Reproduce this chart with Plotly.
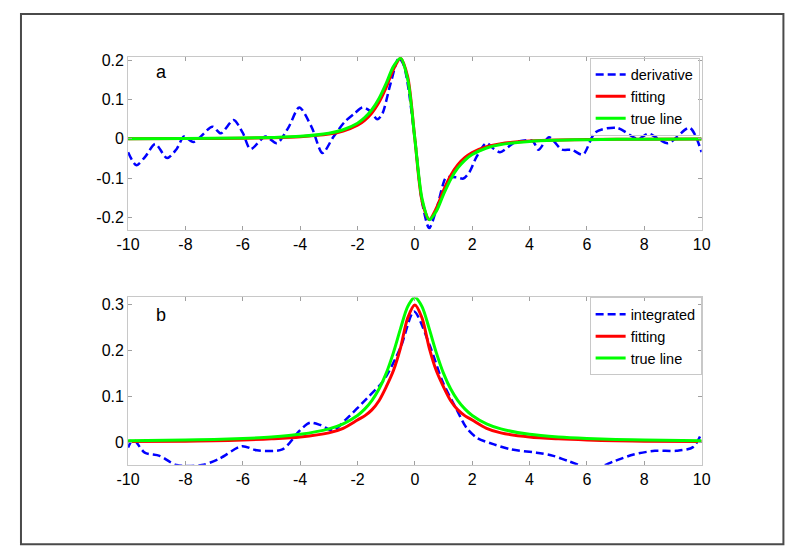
import plotly.graph_objects as go

# ---------------- data ----------------
# Panel a: noisy derivative
xa_deriv = [-10, -9.71, -9.4, -9.05, -8.64, -8.3, -8.05, -7.72, -7.06, -6.77, -6.32, -6.0, -5.73,
            -5.21, -4.81, -4.4, -4.03, -3.6, -3.22, -2.85, -2.45, -2.1, -1.82, -1.55, -1.31, -1.14,
            -0.85, -0.56, -0.4, -0.25, 0.0, 0.25, 0.5, 0.75, 1.07, 1.18, 1.45, 1.69, 1.9, 2.15, 2.49,
            2.75, 2.97, 3.5, 4.1, 4.31, 4.68, 5.12, 5.48, 5.86, 6.3, 7.05, 7.78, 8.15, 8.82, 9.58, 10]
ya_deriv = [-0.034, -0.067, -0.045, -0.013, -0.049, -0.025, 0.006, -0.008, 0.031, 0.014, 0.048, 0.015, -0.026,
            0.006, -0.011, 0.03, 0.080, 0.03, -0.036, 0.004, 0.043, 0.065, 0.080, 0.07, 0.05, 0.063,
            0.14, 0.206, 0.19, 0.14, 0.0, -0.16, -0.227, -0.18, -0.100, -0.097, -0.098, -0.101, -0.085, -0.046, -0.011,
            -0.025, -0.034, -0.009, -0.005, -0.028, 0.004, -0.027, -0.028, -0.040, 0.017, 0.028, 0.0, 0.013, -0.011, 0.028, -0.034]

# Panel a: fitting and true line
xa_smooth = [-10, -8, -6, -5, -4, -3, -2.5, -2, -1.75, -1.5, -1.25, -1, -0.75, -0.5, -0.25, 0,
             0.25, 0.5, 0.75, 1, 1.25, 1.5, 1.75, 2, 2.5, 3, 4, 5, 6, 8, 10]
ya_fit = [0.0004, 0.0007, 0.0017, 0.0029, 0.0056, 0.0123, 0.020, 0.0348, 0.0474, 0.0659, 0.093, 0.1309,
          0.1764, 0.2053, 0.1576, 0.0, -0.1576, -0.2053, -0.1764, -0.1309, -0.093, -0.0659, -0.0474,
          -0.0348, -0.020, -0.0123, -0.0056, -0.0029, -0.0017, -0.0007, -0.0004]
ya_true = [0.00045, 0.0009, 0.0020, 0.0035, 0.0065, 0.0144, 0.0232, 0.0399, 0.0539, 0.074, 0.1026, 0.141,
           0.1839, 0.2056, 0.1517, 0.0, -0.1517, -0.2056, -0.1839, -0.141, -0.1026, -0.074, -0.0539,
           -0.0399, -0.0232, -0.0144, -0.0065, -0.0035, -0.0020, -0.0009, -0.00045]

# Panel b: noisy integrated
xb_int = [-10, -9.82, -9.42, -8.9, -8.31, -7.43, -6.84, -6.03, -5.51, -4.62, -4.03, -3.66, -3.29, -2.85,
          -2.41, -1.67, -1.08, -0.49, -0.03, 0.52, 0.97, 1.43, 1.80, 2.17, 2.76, 3.35, 4.24, 4.83, 5.34,
          6.23, 6.97, 7.63, 8.37, 9.11, 9.70, 10]
yb_int = [-0.012, 0.006, -0.023, -0.030, -0.050, -0.050, -0.037, -0.009, -0.018, -0.016, 0.024, 0.042, 0.037, 0.025,
          0.049, 0.095, 0.135, 0.207, 0.284, 0.21, 0.131, 0.074, 0.031, 0.009, -0.005, -0.016, -0.023, -0.030, -0.041,
          -0.058, -0.041, -0.027, -0.019, -0.019, -0.011, 0.020]

# Panel b: fitting and true line
xb_smooth = [-10, -8, -7, -6, -5, -4, -3, -2.5, -2, -1.75, -1.5, -1.25, -1, -0.75, -0.5, -0.25, 0,
             0.25, 0.5, 0.75, 1, 1.25, 1.5, 1.75, 2, 2.5, 3, 4, 5, 6, 7, 8, 10]
yb_fit = [0.001, 0.002, 0.003, 0.0045, 0.007, 0.011, 0.02, 0.03, 0.048, 0.057, 0.07, 0.09, 0.12, 0.155,
          0.205, 0.27, 0.298, 0.27, 0.205, 0.155, 0.12, 0.09, 0.07, 0.057, 0.048, 0.03, 0.02, 0.011,
          0.007, 0.0045, 0.003, 0.002, 0.001]
yb_true = [0.0028, 0.0044, 0.0056, 0.0077, 0.011, 0.0168, 0.0287, 0.0397, 0.058, 0.0717, 0.0902, 0.1153,
           0.1494, 0.1941, 0.2467, 0.2946, 0.315, 0.2946, 0.2467, 0.1941, 0.1494, 0.1153, 0.0902, 0.0717,
           0.058, 0.0397, 0.0287, 0.0168, 0.011, 0.0077, 0.0056, 0.0044, 0.0028]

x_ticks = [-10, -8, -6, -4, -2, 0, 2, 4, 6, 8, 10]
x_ticktext = ["-10", "-8", "-6", "-4", "-2", "0", "2", "4", "6", "8", "10"]
ya_ticks = [-0.2, -0.1, 0, 0.1, 0.2]
ya_ticktext = ["-0.2", "-0.1", "0", "0.1", "0.2"]
yb_ticks = [0, 0.1, 0.2, 0.3]
yb_ticktext = ["0", "0.1", "0.2", "0.3"]

FONT = "Liberation Sans, Arial, sans-serif"
W, H = 800, 552
OFF = 8  # the page body adds an 8px margin; place everything 8px up/left


def px(x):
    return (x - OFF) / W


def py(y):
    return 1 - (y - OFF) / H


fig = go.Figure()


def add(x, y, name, color, width, dash, xa, ya, legend):
    fig.add_trace(go.Scatter(x=x, y=y, name=name, mode="lines",
                             line=dict(color=color, width=width, dash=dash, shape="spline", smoothing=0.8),
                             xaxis=xa, yaxis=ya, legend=legend))


add(xa_deriv, ya_deriv, "derivative", "#0000ff", 2.5, "8px,4px", "x", "y", "legend")
add(xa_smooth, ya_fit, "fitting", "#ff0000", 3, "solid", "x", "y", "legend")
add(xa_smooth, ya_true, "true line", "#00ff00", 3, "solid", "x", "y", "legend")
add(xb_int, yb_int, "integrated", "#0000ff", 2.5, "8px,4px", "x2", "y2", "legend2")
add(xb_smooth, yb_fit, "fitting", "#ff0000", 3, "solid", "x2", "y2", "legend2")
add(xb_smooth, yb_true, "true line", "#00ff00", 3, "solid", "x2", "y2", "legend2")

xdom = [px(119), px(708)]
axis_common = dict(showline=True, linecolor="#c8c8c8", linewidth=1, mirror="ticks",
                   ticks="inside", ticklen=4, tickcolor="#a0a0a0", tickwidth=1,
                   showgrid=False, zeroline=False,
                   tickfont=dict(family=FONT, size=16, color="#000000"))

legend_common = dict(bgcolor="rgba(255,255,255,0)", bordercolor="#c8c8c8", borderwidth=1,
                     font=dict(family=FONT, size=14.5, color="#000000"),
                     itemwidth=30, tracegroupgap=0, xanchor="right", yanchor="top")

fig.update_layout(
    width=W, height=H, autosize=False,
    margin=dict(l=0, r=0, t=0, b=0),
    paper_bgcolor="#ffffff", plot_bgcolor="#ffffff",
    font=dict(family=FONT, size=16, color="#000000"),
    xaxis=dict(domain=xdom, range=[-10, 10], anchor="y",
               tickvals=x_ticks, ticktext=x_ticktext, **axis_common),
    yaxis=dict(domain=[py(227), py(52.7)], range=[-0.232, 0.2076], anchor="x",
               tickvals=ya_ticks, ticktext=ya_ticktext, **axis_common),
    xaxis2=dict(domain=xdom, range=[-10, 10], anchor="y2",
                tickvals=x_ticks, ticktext=x_ticktext, **axis_common),
    yaxis2=dict(domain=[py(464), py(295)], range=[-0.0496, 0.3147], anchor="x2",
                tickvals=yb_ticks, ticktext=yb_ticktext, **axis_common),
    legend=dict(x=px(706), y=py(53), **legend_common),
    legend2=dict(x=px(708), y=py(295), **legend_common),
    showlegend=True,
    annotations=[
        dict(text="a", x=px(153), y=py(68), xref="paper", yref="paper",
             xanchor="center", yanchor="middle",
             showarrow=False, font=dict(family=FONT, size=18, color="#000000")),
        dict(text="b", x=px(153), y=py(313), xref="paper", yref="paper",
             xanchor="center", yanchor="middle",
             showarrow=False, font=dict(family=FONT, size=18, color="#000000")),
    ],
    shapes=[
        dict(type="rect", xref="paper", yref="paper",
             x0=1 / W, x1=px(792), y0=py(544), y1=1 - 1 / H,
             line=dict(color="#4a4a4a", width=2), fillcolor="rgba(0,0,0,0)", layer="above"),
    ],
)

fig.write_html("out.html")
